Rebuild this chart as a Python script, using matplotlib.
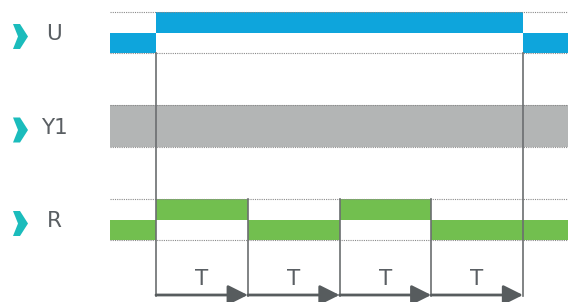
import numpy as np
import matplotlib.pyplot as plt
from matplotlib.patches import Polygon

# signal timing in units of T
u_edges = [-0.5, 0, 4, 4.5]
u_levels = [0, 1, 0]
y1_edges = [-0.5, 4.5]
r_edges = [-0.5, 0, 1, 2, 3, 4.5]
r_levels = [0, 1, 0, 1, 0]
row_names = ["U", "Y1", "R"]
period_labels = ["T", "T", "T", "T"]

blue = "#0ea5dc"
grey = "#b3b5b5"
green = "#72bf4f"
teal = "#1bbcbc"
txt = "#5a5f63"
line = "#6b6e70"

px0, tw = 156, 91.75  # pixel position of t=0 and width of one T

fig = plt.figure(figsize=(5.68, 3.02), dpi=100)
ax = fig.add_axes([0, 0, 1, 1])
ax.set_xlim(-px0 / tw, (568 - px0) / tw)
ax.set_ylim(302, 0)
ax.axis("off")

rows = {"U": (12, 53), "Y1": (105, 147), "R": (199, 240)}


def draw_square(edges, levels, top, bot, color):
    mid = (top + bot) / 2
    for a, b, lv in zip(edges[:-1], edges[1:], levels):
        y = top if lv else mid
        ax.fill_between([a, b], y, y + (mid - top), color=color, lw=0)


for name in row_names:
    top, bot = rows[name]
    ax.plot([-0.5, 4.5], [top, top], ls=(0, (1, 1)), color="#8a8a8a", lw=0.8)
    ax.plot([-0.5, 4.5], [bot, bot], ls=(0, (1, 1)), color="#8a8a8a", lw=0.8)

draw_square(u_edges, u_levels, *rows["U"], blue)
ax.fill_between(y1_edges, rows["Y1"][0], rows["Y1"][1], color=grey, lw=0)
draw_square(r_edges, r_levels, *rows["R"], green)

# vertical markers
ax.plot([0, 0], [53, 296], color=line, lw=1.2)
ax.plot([4, 4], [53, 296], color=line, lw=1.2)
for t in [1, 2, 3]:
    ax.plot([t, t], [199, 296], color=line, lw=1.2)

# T arrows
for i, lab in enumerate(period_labels):
    ax.annotate("", xy=(i + 1, 295), xytext=(i, 295),
                arrowprops=dict(arrowstyle="-|>,head_length=1.0,head_width=0.5",
                                mutation_scale=12, color="#575c5e", lw=2,
                                shrinkA=0, shrinkB=0))
    ax.text(i + 0.5, 279, lab, ha="center", va="center", fontsize=15.5, color=txt)

# row labels with chevrons
for name in row_names:
    top, bot = rows[name]
    mid = (top + bot) / 2
    yc = mid + 4
    cx = -px0 / tw + 13 / tw
    chev = [(cx, yc - 12.5), (cx + 7 / tw, yc - 12.5), (cx + 15 / tw, yc),
            (cx + 7 / tw, yc + 12.5), (cx, yc + 12.5), (cx + 5 / tw, yc)]
    ax.add_patch(Polygon(chev, closed=True, color=teal, lw=0))
    ax.text(-px0 / tw + 54 / tw, mid + 1.5, name, ha="center", va="center",
            fontsize=15.5, color=txt)

fig.savefig("out.png", dpi=100)
